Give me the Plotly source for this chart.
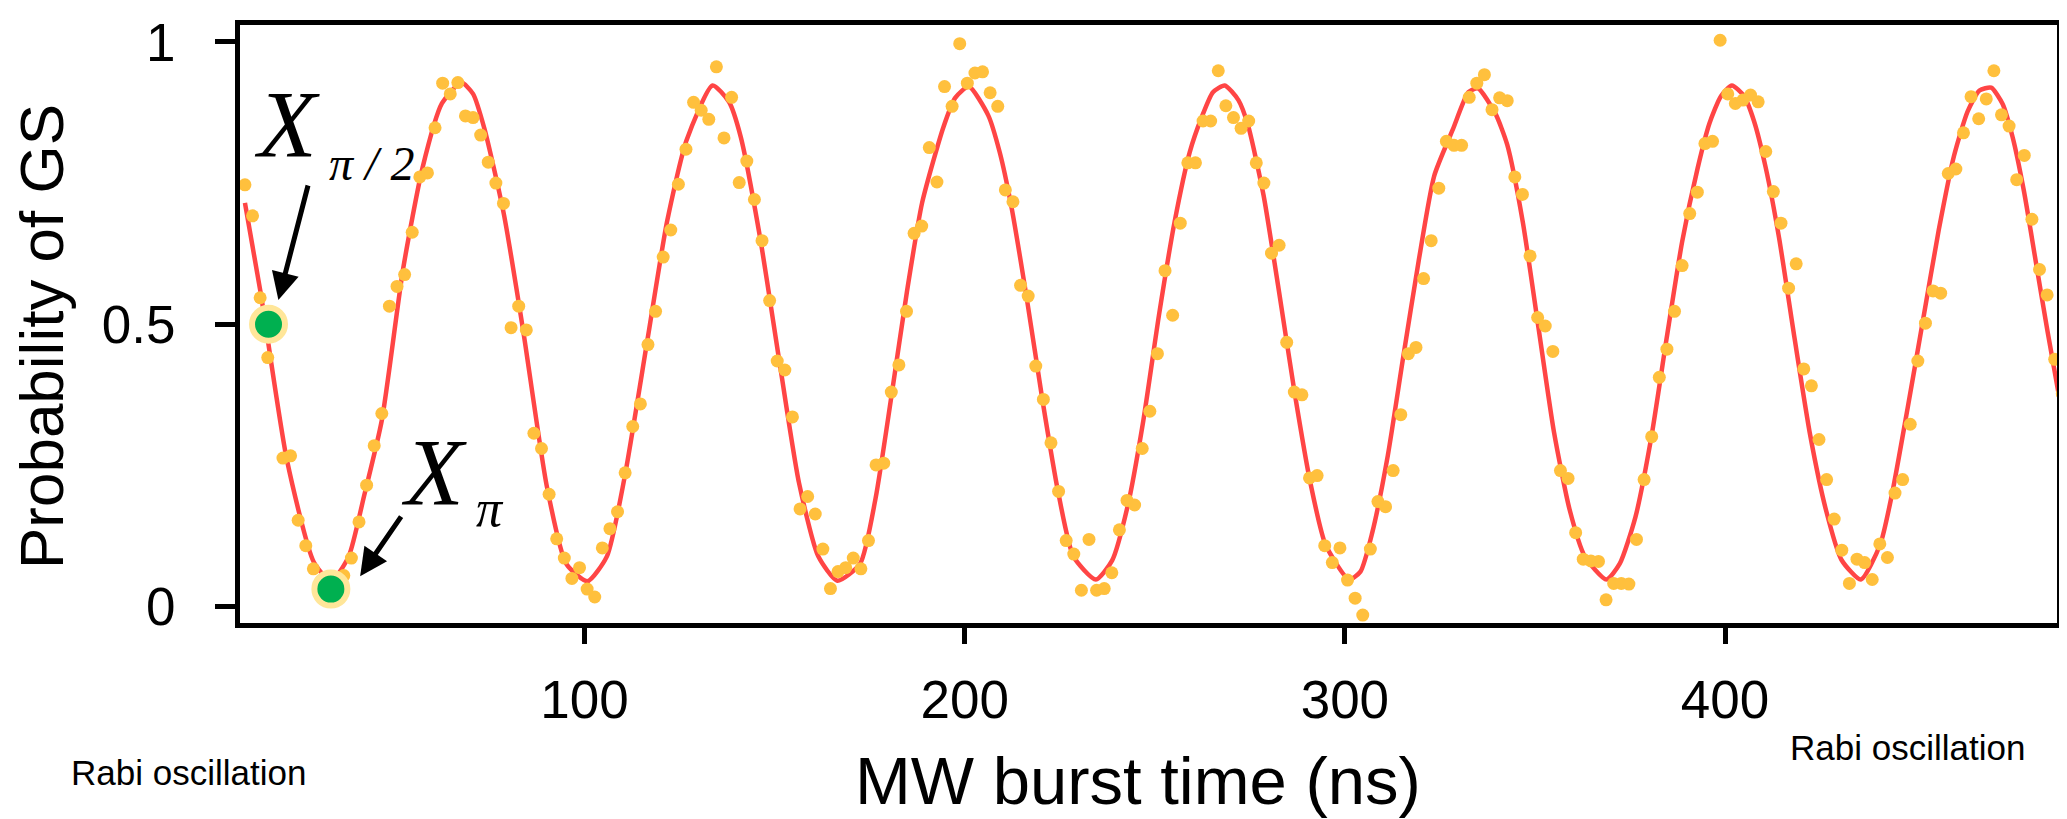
import plotly.graph_objects as go

# measured probability of ground state vs MW burst time (ns)
t_ns = [
    10.7, 12.7, 14.7, 16.7, 20.7, 22.7, 24.7, 26.7, 28.7, 30.7,
    32.7, 34.7, 36.7, 38.7, 40.7, 42.7, 44.7, 46.7, 48.7, 50.7,
    52.7, 54.7, 56.7, 58.7, 60.7, 62.7, 64.7, 66.7, 68.7, 70.7,
    72.7, 74.7, 76.7, 78.7, 80.7, 82.7, 84.7, 86.7, 88.7, 90.7,
    92.7, 94.7, 96.7, 98.7, 100.7, 102.7, 104.7, 106.7, 108.7, 110.7,
    112.7, 114.7, 116.7, 118.7, 120.7, 122.7, 124.7, 126.7, 128.7, 130.7,
    132.7, 134.7, 136.7, 138.7, 140.7, 142.7, 144.7, 146.7, 148.7, 150.7,
    152.7, 154.7, 156.7, 158.7, 160.7, 162.7, 164.7, 166.7, 168.7, 170.7,
    172.7, 174.7, 176.7, 178.7, 180.7, 182.7, 184.7, 186.7, 188.7, 190.7,
    192.7, 194.7, 196.7, 198.7, 200.7, 202.7, 204.7, 206.7, 208.7, 210.7,
    212.7, 214.7, 216.7, 218.7, 220.7, 222.7, 224.7, 226.7, 228.7, 230.7,
    232.7, 234.7, 236.7, 238.7, 240.7, 242.7, 244.7, 246.7, 248.7, 250.7,
    252.7, 254.7, 256.7, 258.7, 260.7, 262.7, 264.7, 266.7, 268.7, 270.7,
    272.7, 274.7, 276.7, 278.7, 280.7, 282.7, 284.7, 286.7, 288.7, 290.7,
    292.7, 294.7, 296.7, 298.7, 300.7, 302.7, 304.7, 306.7, 308.7, 310.7,
    312.7, 314.7, 316.7, 318.7, 320.7, 322.7, 324.7, 326.7, 328.7, 330.7,
    332.7, 334.7, 336.7, 338.7, 340.7, 342.7, 344.7, 346.7, 348.7, 350.7,
    352.7, 354.7, 356.7, 358.7, 360.7, 362.7, 364.7, 366.7, 368.7, 370.7,
    372.7, 374.7, 376.7, 378.7, 380.7, 382.7, 384.7, 386.7, 388.7, 390.7,
    392.7, 394.7, 396.7, 398.7, 400.7, 402.7, 404.7, 406.7, 408.7, 410.7,
    412.7, 414.7, 416.7, 418.7, 420.7, 422.7, 424.7, 426.7, 428.7, 430.7,
    432.7, 434.7, 436.7, 438.7, 440.7, 442.7, 444.7, 446.7, 448.7, 450.7,
    452.7, 454.7, 456.7, 458.7, 460.7, 462.7, 464.7, 466.7, 468.7, 470.7,
    472.7, 474.7, 476.7, 478.7, 480.7, 482.7, 484.7, 486.7, 488.7,
]
p_gs = [
    0.747, 0.692, 0.547, 0.441, 0.263, 0.267, 0.153, 0.108, 0.067, 0.045,
    0.040, 0.050, 0.055, 0.086, 0.150, 0.215, 0.285, 0.342, 0.532, 0.567,
    0.588, 0.663, 0.761, 0.768, 0.848, 0.927, 0.908, 0.928, 0.869, 0.866,
    0.835, 0.787, 0.750, 0.714, 0.494, 0.532, 0.490, 0.307, 0.280, 0.199,
    0.120, 0.086, 0.050, 0.069, 0.031, 0.017, 0.104, 0.138, 0.168, 0.237,
    0.319, 0.359, 0.464, 0.523, 0.619, 0.667, 0.748, 0.810, 0.893, 0.879,
    0.863, 0.956, 0.830, 0.902, 0.751, 0.789, 0.721, 0.648, 0.542, 0.435,
    0.419, 0.336, 0.173, 0.195, 0.164, 0.102, 0.032, 0.062, 0.069, 0.086,
    0.067, 0.117, 0.251, 0.254, 0.380, 0.428, 0.523, 0.661, 0.674, 0.813,
    0.752, 0.921, 0.886, 0.997, 0.927, 0.945, 0.947, 0.910, 0.886, 0.738,
    0.717, 0.569, 0.550, 0.426, 0.367, 0.290, 0.204, 0.117, 0.093, 0.029,
    0.119, 0.029, 0.032, 0.060, 0.136, 0.188, 0.180, 0.280, 0.346, 0.448,
    0.595, 0.516, 0.679, 0.786, 0.786, 0.860, 0.860, 0.949, 0.887, 0.866,
    0.847, 0.860, 0.786, 0.750, 0.626, 0.640, 0.468, 0.380, 0.375, 0.228,
    0.232, 0.108, 0.078, 0.104, 0.047, 0.015, -0.015, 0.102, 0.186, 0.177,
    0.241, 0.340, 0.448, 0.459, 0.581, 0.648, 0.741, 0.824, 0.817, 0.817,
    0.902, 0.927, 0.942, 0.880, 0.901, 0.896, 0.761, 0.730, 0.621, 0.512,
    0.497, 0.452, 0.241, 0.227, 0.131, 0.084, 0.081, 0.080, 0.012, 0.041,
    0.041, 0.040, 0.119, 0.225, 0.301, 0.406, 0.456, 0.523, 0.604, 0.696,
    0.734, 0.820, 0.824, 1.003, 0.908, 0.891, 0.897, 0.906, 0.894, 0.806,
    0.735, 0.679, 0.564, 0.607, 0.421, 0.391, 0.296, 0.225, 0.155, 0.100,
    0.041, 0.084, 0.078, 0.048, 0.111, 0.087, 0.201, 0.225, 0.323, 0.435,
    0.502, 0.559, 0.555, 0.767, 0.775, 0.839, 0.903, 0.864, 0.899, 0.949,
    0.871, 0.851, 0.756, 0.799, 0.686, 0.597, 0.552, 0.438, 0.377,
]

# fitted curve
fit_t = [
    10.7, 14.8, 21.7, 28.8, 33.4, 38.0, 42.0, 46.7, 52.3, 57.4, 62.5, 67.6,
    70.7, 73.7, 78.8, 83.9, 90.1, 95.2, 100.8, 105.9, 110.5, 116.6, 121.7,
    126.8, 133.7, 138.0, 141.1, 146.2, 151.3, 156.4, 161.5, 166.5, 172.5,
    176.6, 180.7, 184.8, 188.8, 194.4, 197.5, 201.1, 206.2, 209.2, 212.3,
    216.4, 220.5, 224.5, 228.6, 234.5, 238.8, 242.9, 247.0, 251.1, 255.2,
    259.2, 262.3, 265.3, 268.4, 272.0, 274.5, 278.6, 282.7, 286.8, 290.9,
    294.9, 301.1, 304.1, 307.2, 311.3, 315.3, 319.4, 323.5, 328.4, 332.5,
    335.0, 339.6, 342.7, 346.8, 350.9, 355.0, 359.1, 363.1, 368.8, 372.3,
    376.4, 380.5, 384.6, 388.7, 392.8, 395.9, 398.9, 401.8, 405.0, 407.6,
    410.7, 414.2, 418.3, 422.4, 426.5, 430.6, 435.7, 440.8, 443.9, 448.0,
    452.1, 456.2, 460.2, 463.8, 466.9, 470.0, 473.0, 475.6, 478.6, 481.7,
    484.8, 488.6,
]
fit_p = [
    0.715, 0.557, 0.261, 0.079, 0.045, 0.089, 0.195, 0.330, 0.598, 0.777, 0.891, 0.928,
    0.908, 0.846, 0.695, 0.488, 0.213, 0.076, 0.045, 0.089, 0.227, 0.474, 0.681,
    0.825, 0.923, 0.894, 0.832, 0.653, 0.433, 0.220, 0.089, 0.046, 0.076,
    0.193, 0.371, 0.557, 0.715, 0.849, 0.901, 0.921, 0.870, 0.805, 0.708,
    0.543, 0.364, 0.206, 0.089, 0.048, 0.082, 0.179, 0.330, 0.516, 0.681,
    0.805, 0.866, 0.911, 0.923, 0.897, 0.853, 0.729, 0.557, 0.378, 0.220,
    0.110, 0.048, 0.062, 0.131, 0.268, 0.440, 0.612, 0.763, 0.845, 0.911,
    0.918, 0.873, 0.818, 0.681, 0.495, 0.309, 0.172, 0.089, 0.048, 0.076,
    0.158, 0.296, 0.474, 0.646, 0.777, 0.856, 0.904, 0.923, 0.904, 0.860,
    0.777, 0.653, 0.474, 0.303, 0.172, 0.083, 0.048, 0.110, 0.199, 0.351,
    0.509, 0.667, 0.798, 0.877, 0.914, 0.919, 0.890, 0.832, 0.736, 0.612,
    0.488, 0.344,
]

# highlighted pulse points (X_pi/2 and X_pi)
pulse_t = [16.9, 33.3]
pulse_p = [0.500, 0.031]

x_ticks = [100, 200, 300, 400]
y_ticks = [0, 0.5, 1]
y_ticktext = ["0", "0.5", "1"]

SANS = "Arial, Liberation Sans, sans-serif"
SERIF = "Times New Roman, Liberation Serif, serif"

# the page body has an 8px margin, so the figure sits 8px in from the corner
OFF = 8
W, H = 2067 - OFF, 819 - OFF
# plot area in page pixels, used to place the free text
L, R, T, B = 240, 2062, 15, 623.5


def px(x):
    return (x - L) / (R - L)


def py(y):
    return (B - y) / (B - T)


def label(text, x, y, size, family=SANS, **kw):
    return dict(text=text, x=px(x), y=py(y), xref="paper", yref="paper",
                xanchor=kw.pop("xanchor", "center"), yanchor="middle",
                showarrow=False, font=dict(family=family, size=size, color="black"), **kw)


fig = go.Figure()

fig.add_trace(go.Scatter(
    x=fit_t, y=fit_p, mode="lines",
    line=dict(color="#FF4545", width=4.5, shape="spline", smoothing=0.6),
    showlegend=False, hoverinfo="skip",
))
fig.add_trace(go.Scatter(
    x=t_ns, y=p_gs, mode="markers",
    marker=dict(color="#FFC03D", size=13),
    showlegend=False,
))
fig.add_trace(go.Scatter(
    x=pulse_t, y=pulse_p, mode="markers",
    marker=dict(color="#00B050", size=33, line=dict(color="#FFE699", width=6)),
    showlegend=False,
))

annotations = [
    label("MW burst time (ns)", 1140, 784, 67),
    label("Probability of GS", 41, 332, 62, textangle=-90),
    label("Rabi oscillation", 69, 776, 35, xanchor="left"),
    label("Rabi oscillation", 1792, 750, 35, xanchor="left"),
    label("<i>X</i>", 287, 116, 96, family=SERIF),
    label("<i>π / 2</i>", 372, 156, 48, family=SERIF),
    label("<i>X</i>", 435, 470, 96, family=SERIF),
    label("<i>π</i>", 491, 507, 52, family=SERIF),
    # arrows
    dict(text="", x=19.5, y=0.543, xref="x", yref="y", ax=30, ay=-116,
         showarrow=True, arrowhead=2, arrowsize=1.1, arrowwidth=5, arrowcolor="black"),
    dict(text="", x=41.0, y=0.054, xref="x", yref="y", ax=42, ay=-61,
         showarrow=True, arrowhead=2, arrowsize=1.1, arrowwidth=5, arrowcolor="black"),
]

axis_common = dict(
    showline=True, linewidth=5, linecolor="black", mirror=True,
    ticks="outside", tickwidth=5, tickcolor="black",
    showgrid=False, zeroline=False, ticklabeloverflow="allow",
    tickfont=dict(family=SANS, size=53, color="black"),
)

fig.update_layout(
    width=W, height=H, autosize=False,
    margin=dict(l=L - OFF, r=2067 - R, t=T - OFF, b=819 - B),
    paper_bgcolor="white", plot_bgcolor="white",
    xaxis=dict(range=[9.4, 487.3], tickvals=x_ticks, ticklen=16,
               ticklabelstandoff=10, **axis_common),
    yaxis=dict(range=[-0.029, 1.030], tickvals=y_ticks, ticktext=y_ticktext,
               ticklen=20, ticklabelstandoff=29, **axis_common),
    annotations=annotations,
)

fig.write_html("out.html")
